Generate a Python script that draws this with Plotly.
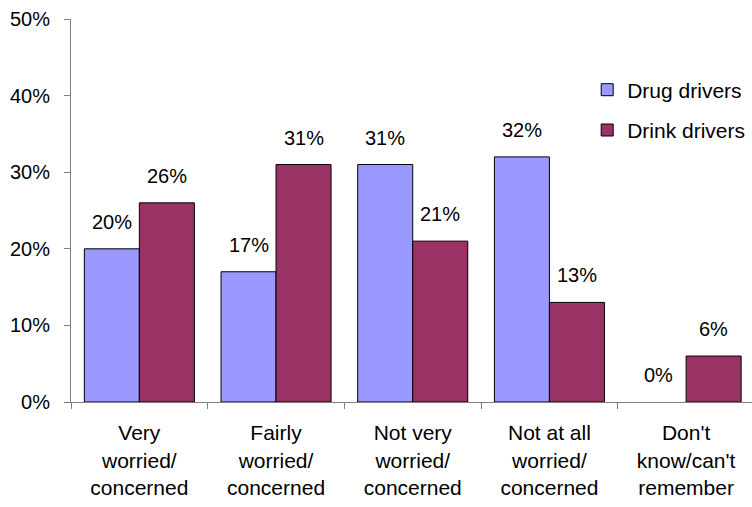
import plotly.graph_objects as go

categories = ["Very<br>worried/<br>concerned", "Fairly<br>worried/<br>concerned",
              "Not very<br>worried/<br>concerned", "Not at all<br>worried/<br>concerned",
              "Don't<br>know/can't<br>remember"]
drug = [0.20, 0.17, 0.31, 0.32, 0.00]
drink = [0.26, 0.31, 0.21, 0.13, 0.06]
series_names = ["Drug drivers", "Drink drivers"]
colors = ["#9999FF", "#993366"]

FONT = "Liberation Sans, Arial, sans-serif"
FS = 20
FS_CAT = 21
BARGAP = 0.195

x = list(range(len(categories)))
fig = go.Figure()
for name, vals, col in zip(series_names, [drug, drink], colors):
    fig.add_trace(go.Bar(
        x=x, y=vals, name=name, legendgroup=name,
        marker=dict(color=col, line=dict(color="black",
                                         width=[1 if v > 0 else 0 for v in vals])),
    ))

# data labels above bars
off = (1 - BARGAP) / 4
for k, vals in enumerate([drug, drink]):
    sign = -1 if k == 0 else 1
    for xi, v in zip(x, vals):
        fig.add_annotation(x=xi + sign * off, y=v, text=f"{round(v*100)}%",
                           showarrow=False, yanchor="middle", yshift=27,
                           font=dict(size=FS, color="black", family=FONT))

fig.update_layout(
    width=752, height=507,
    margin=dict(l=71, r=0, t=19, b=105),
    paper_bgcolor="white", plot_bgcolor="white",
    font=dict(family=FONT, size=FS, color="black"),
    barmode="group", bargap=BARGAP, bargroupgap=0,
    showlegend=True,
    legend=dict(x=0.758, y=0.868, xanchor="left", yanchor="top",
                traceorder="grouped", tracegroupgap=10,
                bgcolor="rgba(0,0,0,0)", font=dict(size=FS_CAT)),
)
fig.update_xaxes(
    range=[-0.5, 4.482], tickvals=x, ticktext=categories, ticks="",
    showline=True, linecolor="#808080", linewidth=1, showgrid=False, zeroline=False,
    minor=dict(tick0=-0.5, dtick=1, ticks="outside", ticklen=6, tickcolor="#808080", showgrid=False),
    tickfont=dict(size=FS_CAT), ticklabelstandoff=12,
)
fig.update_yaxes(
    range=[0, 0.5], dtick=0.1, tickformat=".0%", ticks="outside", ticklen=6,
    tickcolor="#808080", showline=True, linecolor="#808080", linewidth=1,
    showgrid=False, zeroline=False, ticklabelstandoff=10, tickfont=dict(size=FS),
)
fig.write_html("out.html")
